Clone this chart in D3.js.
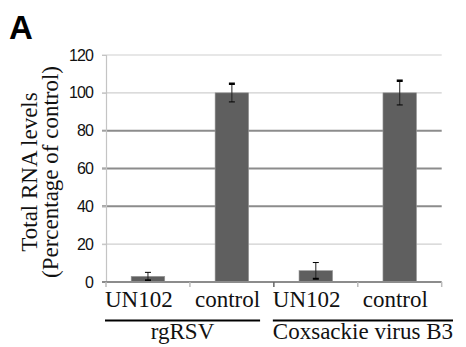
<!DOCTYPE html>
<html lang="en">
  <head>
    <meta charset="utf-8" />
    <title>Total RNA levels</title>
    <script src="https://d3js.org/d3.v7.min.js"></script>
    <style>
      body { margin: 0; background: #fff; }
      svg { display: block; }
      svg text.serif { font-family: 'Liberation Serif', 'DejaVu Serif', 'Times New Roman', Times, serif; }
    </style>
  </head>

  <body>
    <svg width="466" height="347"></svg>
  </body>
  <script>
    // Data to plot
    const groups = ['rgRSV', 'Coxsackie virus B3'];
    const treatments = ['UN102', 'control'];
    const means = [3, 100, 6, 100];
    const errors = [2.1, 4.8, 4.3, 6.4];
    const yTicks = [0, 20, 40, 60, 80, 100, 120];

    const sansFont = 'Liberation Sans, Arial, sans-serif';

    // one key per bar: group|treatment
    const keys = groups.flatMap(g => treatments.map(t => g + '|' + t));
    const rows = keys.map((k, i) => ({
      key: k,
      group: k.split('|')[0],
      treatment: k.split('|')[1],
      mean: means[i],
      err: errors[i]
    }));

    const svg = d3.select('svg');

    // plot area
    const plotLeft = 106, plotRight = 441.7, plotTop = 55, plotBottom = 282;

    const x = d3.scaleBand()
          .domain(keys)
          .range([plotLeft, plotRight])
          .paddingInner(0.6)
          .paddingOuter(0.3);

    const y = d3.scaleLinear()
          .domain([0, 120])
          .range([plotBottom, plotTop]);

    const bandStart = k => x(k) - x.step() * x.paddingInner() / 2;

    // horizontal grid lines
    const strong = v => v >= 40 && v <= 80;
    svg.append('g')
      .selectAll('line')
      .data(yTicks.filter(v => v > 0))
      .join('line')
      .attr('x1', plotLeft - 4)
      .attr('x2', plotRight)
      .attr('y1', d => y(d))
      .attr('y2', d => y(d))
      .attr('stroke', d => strong(d) ? '#8c8c8c' : '#cfcfcf')
      .attr('stroke-width', d => strong(d) ? 2 : 1.2);

    // Y axis with labels
    const yAxis = svg.append('g')
      .attr('transform', `translate(${plotLeft}, 0)`)
      .call(d3.axisLeft(y).tickValues(yTicks).tickSize(4).tickPadding(9));
    yAxis.attr('font-family', null).attr('font-size', null);
    yAxis.select('.domain').attr('stroke', '#c4c4c4').attr('stroke-width', 1.2);
    yAxis.selectAll('.tick line').attr('stroke', '#c4c4c4');
    yAxis.selectAll('.tick text')
      .style('font-family', sansFont)
      .style('font-size', '16px')
      .attr('letter-spacing', -0.9)
      .attr('fill', '#111');

    // bars
    svg.append('g')
      .selectAll('rect')
      .data(rows)
      .join('rect')
      .attr('x', d => x(d.key))
      .attr('width', x.bandwidth())
      .attr('y', d => y(d.mean))
      .attr('height', d => y(0) - y(d.mean))
      .attr('fill', '#5f5f5f')
      .attr('stroke', '#9a9a9a')
      .attr('stroke-width', 0.6);

    // error bars
    const eb = svg.append('g')
      .selectAll('g')
      .data(rows)
      .join('g')
      .attr('transform', d => `translate(${x(d.key) + x.bandwidth() / 2}, 0)`);
    eb.append('line')
      .attr('y1', d => y(d.mean + d.err))
      .attr('y2', d => y(d.mean - d.err))
      .attr('stroke', '#222')
      .attr('stroke-width', 1);
    eb.append('line')
      .attr('x1', -3).attr('x2', 3)
      .attr('y1', d => y(d.mean + d.err))
      .attr('y2', d => y(d.mean + d.err))
      .attr('stroke', '#000')
      .attr('stroke-width', d => d.mean > 50 ? 2.5 : 1);
    eb.append('line')
      .attr('x1', -3).attr('x2', 3)
      .attr('y1', d => y(d.mean - d.err))
      .attr('y2', d => y(d.mean - d.err))
      .attr('stroke', '#000')
      .attr('stroke-width', d => d.mean > 50 ? 1 : 2);

    // X axis line and ticks at band boundaries
    svg.append('line')
      .attr('x1', plotLeft - 4).attr('x2', plotRight)
      .attr('y1', y(0)).attr('y2', y(0))
      .attr('stroke', '#8c8c8c')
      .attr('stroke-width', 2);
    svg.append('g')
      .selectAll('line')
      .data(d3.range(keys.length + 1))
      .join('line')
      .attr('x1', i => plotLeft + i * x.step())
      .attr('x2', i => plotLeft + i * x.step())
      .attr('y1', y(0))
      .attr('y2', y(0) + 5)
      .attr('stroke', i => i === 2 ? '#666' : '#bbb')
      .attr('stroke-width', 1.5);

    // category labels
    const catLabels = svg.append('g')
      .selectAll('text')
      .data(rows)
      .join('text')
      .attr('class', 'serif')
      .style('font-size', '23px')
      .attr('fill', '#111')
      .attr('x', d => bandStart(d.key) + (d.treatment === 'UN102' ? -1 : 5))
      .attr('y', 307)
      .text(d => d.treatment);

    // group labels with underline
    groups.forEach(g => {
      const nodes = catLabels.filter(d => d.group === g).nodes();
      const x0 = d3.min(nodes, n => +n.getAttribute('x'));
      let x1 = d3.max(nodes, n => +n.getAttribute('x') + n.getComputedTextLength());
      const label = svg.append('text')
        .attr('class', 'serif')
        .style('font-size', '23px')
        .attr('fill', '#111')
        .attr('y', 339)
        .text(g);
      const w = label.node().getComputedTextLength();
      if (w > x1 - x0) {
        label.attr('x', x0);
        x1 = x0 + w;
      } else {
        label.attr('x', (x0 + x1) / 2).attr('text-anchor', 'middle');
      }
      svg.append('line')
        .attr('x1', x0).attr('x2', x1)
        .attr('y1', 320.5).attr('y2', 320.5)
        .attr('stroke', '#000')
        .attr('stroke-width', 2);
    });

    // Y axis title
    const yTitle = svg.append('text')
      .attr('class', 'serif')
      .style('font-size', '23px')
      .attr('fill', '#111')
      .attr('text-anchor', 'middle')
      .attr('transform', 'translate(37, 172) rotate(-90)');
    yTitle.append('tspan').attr('x', 0).attr('y', 0).text('Total RNA levels');
    yTitle.append('tspan').attr('x', 0).attr('y', 21).text('(Percentage of control)');

    // panel letter
    svg.append('text')
      .attr('x', 9)
      .attr('y', 39)
      .style('font-family', sansFont)
      .style('font-weight', 'bold')
      .style('font-size', '33px')
      .attr('fill', '#000')
      .text('A');
  </script>
</html>
